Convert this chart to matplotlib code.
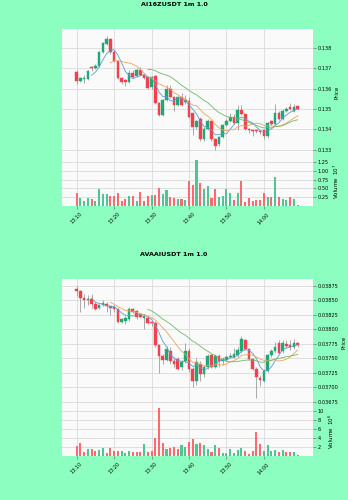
import numpy as np
import pandas as pd
import matplotlib
matplotlib.use('Agg')
import matplotlib.pyplot as plt

# ---- data: 1 minute candles, 13:10 -> 14:09 ----
time_labels = ['13:10', '13:20', '13:30', '13:40', '13:50', '14:00']
time_ticks = [0, 10, 20, 30, 40, 50]
mavs = [5, 10, 20]

# AI16ZUSDT
ai_open = [0.13682, 0.13638, 0.13645, 0.13648, 0.13705, 0.13700, 0.13710, 0.13778, 0.13820, 0.13841,
           0.13777, 0.13735, 0.13650, 0.13640, 0.13630, 0.13677, 0.13660, 0.13690, 0.13665, 0.13655,
           0.13608, 0.13660, 0.13530, 0.13470, 0.13543, 0.13600, 0.13560, 0.13520, 0.13560, 0.13535,
           0.13540, 0.13478, 0.13410, 0.13450, 0.13350, 0.13400, 0.13440, 0.13350, 0.13330, 0.13360,
           0.13420, 0.13440, 0.13458, 0.13430, 0.13495, 0.13475, 0.13402, 0.13398, 0.13398, 0.13392,
           0.13395, 0.13368, 0.13440, 0.13428, 0.13478, 0.13452, 0.13490, 0.13508, 0.13490, 0.13512]
ai_high = [0.13690, 0.13655, 0.13666, 0.13692, 0.13710, 0.13722, 0.13785, 0.13830, 0.13857, 0.13850,
           0.13790, 0.13740, 0.13655, 0.13645, 0.13690, 0.13690, 0.13700, 0.13705, 0.13670, 0.13660,
           0.13662, 0.13665, 0.13535, 0.13548, 0.13615, 0.13615, 0.13565, 0.13562, 0.13580, 0.13570,
           0.13560, 0.13480, 0.13445, 0.13460, 0.13410, 0.13450, 0.13445, 0.13355, 0.13365, 0.13425,
           0.13450, 0.13480, 0.13475, 0.13520, 0.13520, 0.13480, 0.13405, 0.13402, 0.13400, 0.13398,
           0.13398, 0.13438, 0.13445, 0.13525, 0.13490, 0.13500, 0.13510, 0.13527, 0.13525, 0.13520]
ai_low = [0.13622, 0.13630, 0.13628, 0.13640, 0.13685, 0.13695, 0.13705, 0.13775, 0.13815, 0.13770,
          0.13728, 0.13645, 0.13622, 0.13612, 0.13625, 0.13650, 0.13655, 0.13660, 0.13645, 0.13598,
          0.13600, 0.13525, 0.13465, 0.13465, 0.13540, 0.13555, 0.13490, 0.13515, 0.13515, 0.13525,
          0.13455, 0.13370, 0.13400, 0.13345, 0.13345, 0.13395, 0.13345, 0.13300, 0.13320, 0.13355,
          0.13415, 0.13435, 0.13425, 0.13395, 0.13470, 0.13398, 0.13380, 0.13365, 0.13380, 0.13375,
          0.13350, 0.13355, 0.13420, 0.13420, 0.13448, 0.13448, 0.13485, 0.13495, 0.13485, 0.13495]
ai_close = [0.13638, 0.13650, 0.13650, 0.13688, 0.13700, 0.13712, 0.13780, 0.13821, 0.13841, 0.13777,
            0.13735, 0.13650, 0.13630, 0.13630, 0.13677, 0.13655, 0.13690, 0.13665, 0.13650, 0.13605,
            0.13657, 0.13530, 0.13470, 0.13543, 0.13600, 0.13560, 0.13520, 0.13557, 0.13520, 0.13545,
            0.13462, 0.13410, 0.13442, 0.13350, 0.13403, 0.13440, 0.13350, 0.13320, 0.13360, 0.13420,
            0.13442, 0.13458, 0.13430, 0.13495, 0.13475, 0.13402, 0.13395, 0.13392, 0.13392, 0.13388,
            0.13368, 0.13432, 0.13428, 0.13478, 0.13452, 0.13490, 0.13500, 0.13500, 0.13510, 0.13502]
ai_vol = [0.36, 0.23, 0.15, 0.22, 0.19, 0.13, 0.48, 0.34, 0.33, 0.29,
          0.29, 0.37, 0.15, 0.21, 0.29, 0.29, 0.15, 0.39, 0.15, 0.27,
          0.32, 0.32, 0.51, 0.34, 0.46, 0.25, 0.23, 0.21, 0.21, 0.17,
          0.72, 0.61, 1.31, 0.65, 0.48, 0.57, 0.23, 0.48, 0.25, 0.27,
          0.49, 0.37, 0.18, 0.37, 0.72, 0.12, 0.23, 0.13, 0.17, 0.17,
          0.36, 0.25, 0.25, 0.82, 0.25, 0.19, 0.16, 0.26, 0.21, 0.03]  # x 1e7

# AVAAIUSDT
av_open = [0.038690, 0.038660, 0.038530, 0.038506, 0.038520, 0.038437, 0.038369, 0.038415, 0.038437, 0.038398,
           0.038380, 0.038350, 0.038130, 0.038150, 0.038170, 0.038341, 0.038312, 0.038260, 0.038200, 0.038200,
           0.038120, 0.038110, 0.037730, 0.037545, 0.037480, 0.037630, 0.037460, 0.037490, 0.037350, 0.037450,
           0.037620, 0.037320, 0.037120, 0.037410, 0.037230, 0.037350, 0.037560, 0.037360, 0.037540, 0.037450,
           0.037470, 0.037520, 0.037530, 0.037560, 0.037630, 0.037810, 0.037660, 0.037490, 0.037320, 0.037170,
           0.037120, 0.037290, 0.037560, 0.037630, 0.037770, 0.037630, 0.037744, 0.037730, 0.037700, 0.037760]
av_high = [0.038740, 0.038670, 0.038600, 0.038585, 0.038600, 0.038470, 0.038430, 0.038500, 0.038475, 0.038420,
           0.038420, 0.038370, 0.038190, 0.038227, 0.038380, 0.038360, 0.038330, 0.038280, 0.038260, 0.038230,
           0.038150, 0.038140, 0.037750, 0.037570, 0.037710, 0.037700, 0.037520, 0.037520, 0.037480, 0.037760,
           0.037680, 0.037350, 0.037500, 0.037450, 0.037380, 0.037570, 0.037580, 0.037570, 0.037570, 0.037520,
           0.037550, 0.037600, 0.037680, 0.037700, 0.037886, 0.037840, 0.037680, 0.037510, 0.037350, 0.037220,
           0.037320, 0.037580, 0.037660, 0.037780, 0.037820, 0.037820, 0.037810, 0.037820, 0.037840, 0.037790]
av_low = [0.038580, 0.038300, 0.038370, 0.038415, 0.038370, 0.038324, 0.038340, 0.038400, 0.038300, 0.038244,
          0.038300, 0.038110, 0.038100, 0.038097, 0.038150, 0.038280, 0.038180, 0.038190, 0.038010, 0.038090,
          0.038060, 0.037700, 0.037244, 0.037400, 0.037450, 0.037400, 0.037350, 0.037300, 0.037300, 0.037420,
          0.037270, 0.037006, 0.037050, 0.037120, 0.037180, 0.037320, 0.037330, 0.037330, 0.037350, 0.037380,
          0.037450, 0.037500, 0.037500, 0.037530, 0.037600, 0.037640, 0.037470, 0.037300, 0.036824, 0.037034,
          0.037090, 0.037270, 0.037530, 0.037600, 0.037570, 0.037600, 0.037680, 0.037640, 0.037660, 0.037700]
av_close = [0.038660, 0.038530, 0.038506, 0.038523, 0.038437, 0.038341, 0.038409, 0.038455, 0.038398, 0.038358,
            0.038350, 0.038130, 0.038170, 0.038199, 0.038341, 0.038301, 0.038210, 0.038210, 0.038220, 0.038114,
            0.038100, 0.037733, 0.037545, 0.037472, 0.037660, 0.037450, 0.037400, 0.037320, 0.037430, 0.037620,
            0.037320, 0.037120, 0.037430, 0.037230, 0.037347, 0.037540, 0.037358, 0.037540, 0.037450, 0.037490,
            0.037520, 0.037545, 0.037574, 0.037640, 0.037830, 0.037660, 0.037490, 0.037320, 0.037176, 0.037130,
            0.037290, 0.037557, 0.037620, 0.037700, 0.037600, 0.037760, 0.037716, 0.037700, 0.037770, 0.037730]
av_vol = [2.3, 3.0, 0.85, 1.45, 1.6, 1.1, 1.3, 1.7, 0.7, 1.7,
          1.2, 1.15, 1.15, 0.7, 1.2, 0.9, 0.8, 0.8, 2.6, 0.8,
          1.2, 4.0, 10.7, 2.9, 1.45, 1.8, 1.9, 1.45, 2.5, 1.9,
          3.2, 3.8, 2.6, 3.0, 2.5, 1.45, 0.8, 2.4, 1.7, 0.7,
          0.7, 1.6, 0.7, 1.3, 1.7, 1.1, 0.4, 1.2, 5.4, 2.7,
          1.2, 2.4, 1.2, 1.3, 0.9, 1.4, 0.85, 0.9, 0.85, 0.15]  # x 1e6

# ---- style ----
bg = '#8cffc0'
face = '#fafafa'
grid_c = '#dadada'
up_c, down_c = '#1fa876', '#f2404e'
vup_c, vdown_c = '#4fc594', '#fb6b6e'
wick_c = '#8a8a8a'
mav_colors = ['#5b9ccf', '#efa25a', '#6cb86c']

W, H = 348, 500
fig = plt.figure(figsize=(W / 100, H / 100), dpi=100, facecolor=bg)


def box(x0, y0, x1, y1):
    # pixel box (top-left origin) -> figure fraction
    return [x0 / W, 1 - y1 / H, (x1 - x0) / W, (y1 - y0) / H]


def style_ax(ax, yticks, ylabels):
    ax.set_facecolor(face)
    for s in ax.spines.values():
        s.set_visible(False)
    ax.yaxis.tick_right()
    ax.set_yticks(yticks)
    ax.set_yticklabels(ylabels)
    ax.set_xticks(time_ticks)
    ax.tick_params(axis='both', labelsize=3.6, length=2, width=0.4, color='#555555', pad=1.2)
    ax.grid(True, color=grid_c, lw=0.6)
    ax.set_axisbelow(True)
    ax.set_xlim(-3.9, 63.1)


def draw_chart(top, title, o, h, l, c, v, plim, pticks, pfmt, vlim, vticks, vfmt, vexp):
    o, h, l, c, v = map(np.array, (o, h, l, c, v))
    x = np.arange(len(o))
    up = c >= o

    axp = fig.add_axes(box(62, top + 29, 313, top + 156))
    axv = fig.add_axes(box(62, top + 156, 313, top + 206), sharex=axp)

    # candles
    axp.vlines(x, l, h, color=wick_c, lw=0.5, zorder=2)
    colors = np.where(up, up_c, down_c)
    axp.bar(x, np.abs(c - o), bottom=np.minimum(o, c), width=0.7,
            color=colors, edgecolor=colors, lw=0.3, zorder=3)

    # moving averages
    cs = pd.Series(c)
    for m, mc in zip(mavs, mav_colors):
        axp.plot(x, cs.rolling(m).mean(), color=mc, lw=0.6, zorder=4)

    style_ax(axp, pticks, [pfmt % t for t in pticks])
    axp.set_ylim(*plim)
    axp.tick_params(axis='x', labelbottom=False, length=0)
    axp.yaxis.set_label_position('right')
    axp.set_ylabel('Price', fontsize=4, labelpad=2)

    # volume
    axv.bar(x, v, width=0.55, color=np.where(up, vup_c, vdown_c), zorder=3)
    style_ax(axv, vticks, [vfmt % t for t in vticks])
    axv.set_ylim(*vlim)
    axv.set_xticklabels(time_labels, rotation=45, ha='center')
    axv.tick_params(axis='x', pad=2)
    axv.yaxis.set_label_position('right')
    axv.set_ylabel('Volume  $10^{%d}$' % vexp, fontsize=4, labelpad=2)

    fig.text(0.5, 1 - (top + 5) / H, title, ha='center', va='center',
             fontsize=4.6, fontweight='bold')


draw_chart(0, 'AI16ZUSDT 1m 1.0', ai_open, ai_high, ai_low, ai_close, ai_vol,
           (0.13269, 0.13892), [0.133, 0.134, 0.135, 0.136, 0.137, 0.138], '%.3f',
           (0, 1.42), [0.25, 0.5, 0.75, 1.0, 1.25], '%.2f', 7)

draw_chart(250, 'AVAAIUSDT 1m 1.0', av_open, av_high, av_low, av_close, av_vol,
           (0.036682, 0.038864), [0.03675, 0.037, 0.03725, 0.0375, 0.03775, 0.038, 0.03825, 0.0385, 0.03875],
           '%.5f', (0, 11.15), [2, 4, 6, 8, 10], '%d', 6)

fig.savefig('out.png', dpi=100, facecolor=bg)
